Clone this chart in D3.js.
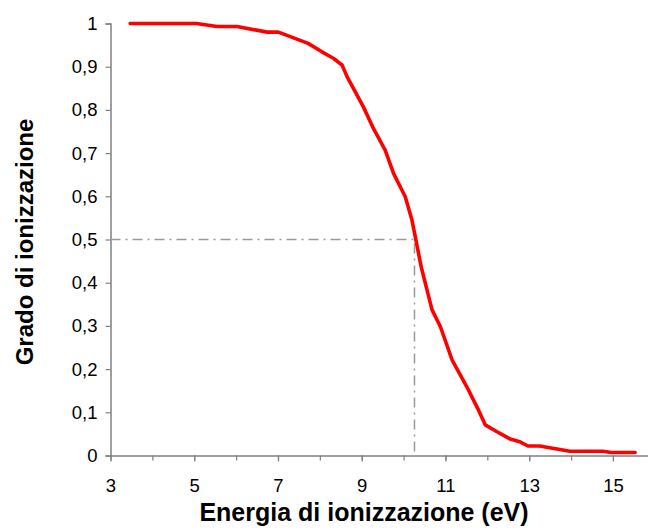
<!DOCTYPE html>
<html>
<head>
<meta charset="utf-8">
<script src="https://cdn.jsdelivr.net/npm/d3@7"></script>
<style>
  html, body { margin: 0; padding: 0; background: #fff; }
  svg { display: block; font-family: "Liberation Sans", Arial, sans-serif; }
</style>
</head>
<body>
<svg id="chart" width="648" height="528"></svg>
<script>
// Data
const energy = [3.47, 5.06, 5.54, 6.02, 6.74, 7.01, 7.72, 8.04, 8.33, 8.53, 8.65, 9.04, 9.28, 9.56, 9.76, 10.04, 10.2, 10.28, 10.42, 10.68, 10.88, 11.16, 11.51, 11.79, 11.95, 12.23, 12.55, 12.77, 12.97, 13.25, 13.97, 14.76, 14.96, 15.53];
const grado  = [1, 1, 0.993, 0.993, 0.98, 0.98, 0.954, 0.935, 0.919, 0.904, 0.877, 0.807, 0.757, 0.707, 0.653, 0.599, 0.545, 0.506, 0.437, 0.337, 0.298, 0.221, 0.159, 0.105, 0.071, 0.055, 0.038, 0.032, 0.022, 0.022, 0.010, 0.010, 0.007, 0.007];
const xTickValues = [3, 5, 7, 9, 11, 13, 15];
const xMinorTicks = [3, 4, 5, 6, 7, 8, 9, 10, 11, 12, 13, 14, 15];
const yTickValues = [0, 0.1, 0.2, 0.3, 0.4, 0.5, 0.6, 0.7, 0.8, 0.9, 1];
const halfPoint = { x: 10.26, y: 0.5 };
const xTitle = "Energia di ionizzazione (eV)";
const yTitle = "Grado di ionizzazione";

(function () {
const svg = d3.select("#chart");
const mLeft = 110.5, mTop = 23.5, mBottom = 455.5, mRight = 648;

const x = d3.scaleLinear().domain([3, 3 + (mRight - mLeft) / 41.87]).range([mLeft, mRight]);
const y = d3.scaleLinear().domain([0, 1]).range([mBottom, mTop]);

const axisColor = "#808080";
const fam = "'Liberation Sans', Arial, sans-serif";

// Y axis
const yAxis = svg.append("g")
  .attr("transform", `translate(${mLeft},0)`)
  .call(d3.axisLeft(y).tickValues(yTickValues).tickSize(5).tickPadding(8)
    .tickFormat(d => d3.format(".1~f")(d).replace(".", ",")));
yAxis.select(".domain").attr("stroke", axisColor).attr("stroke-width", 1.5);
yAxis.selectAll(".tick line").attr("stroke", axisColor).attr("stroke-width", 1.2);
yAxis.selectAll(".tick text").attr("font-size", 18.5).attr("fill", "#000")
  .attr("font-family", fam);

// X axis minor ticks
const xMinor = svg.append("g")
  .attr("transform", `translate(0,${mBottom})`)
  .call(d3.axisBottom(x).tickValues(xMinorTicks).tickSize(5).tickFormat(""));
xMinor.select(".domain").remove();
xMinor.selectAll(".tick line").attr("stroke", axisColor).attr("stroke-width", 1.2);

// X axis
const xAxis = svg.append("g")
  .attr("transform", `translate(0,${mBottom})`)
  .call(d3.axisBottom(x).tickValues(xTickValues).tickSize(6).tickSizeOuter(0).tickPadding(17)
    .tickFormat(d3.format("d")));
xAxis.select(".domain").attr("stroke", axisColor).attr("stroke-width", 1.5);
xAxis.selectAll(".tick line").attr("stroke", axisColor).attr("stroke-width", 1.2);
xAxis.selectAll(".tick text").attr("font-size", 18.5).attr("fill", "#000")
  .attr("font-family", fam);

// Dash-dot reference lines at half ionization
const refPath = d3.path();
refPath.moveTo(x(3), y(halfPoint.y));
refPath.lineTo(x(halfPoint.x), y(halfPoint.y));
refPath.lineTo(x(halfPoint.x), y(0));
svg.append("path")
  .attr("d", refPath.toString())
  .attr("fill", "none")
  .attr("stroke", "#9a9a9a")
  .attr("stroke-width", 1.5)
  .attr("stroke-dasharray", "10,5,2,5");

// Curve
const data = energy.map((e, i) => ({ e, g: grado[i] }));
svg.append("path")
  .datum(data)
  .attr("fill", "none")
  .attr("stroke", "#ff0000")
  .attr("stroke-width", 3.6)
  .attr("stroke-linejoin", "round")
  .attr("stroke-linecap", "round")
  .attr("d", d3.line().x(d => x(d.e)).y(d => y(d.g)));

// Titles
svg.append("text")
  .attr("x", 364).attr("y", 521)
  .attr("text-anchor", "middle")
  .attr("font-family", fam)
  .attr("font-size", 25).attr("font-weight", "bold")
  .text(xTitle);

svg.append("text")
  .attr("transform", "translate(33,242) rotate(-90)")
  .attr("text-anchor", "middle")
  .attr("font-family", fam)
  .attr("font-size", 24).attr("font-weight", "bold")
  .text(yTitle);
})();
</script>
</body>
</html>
